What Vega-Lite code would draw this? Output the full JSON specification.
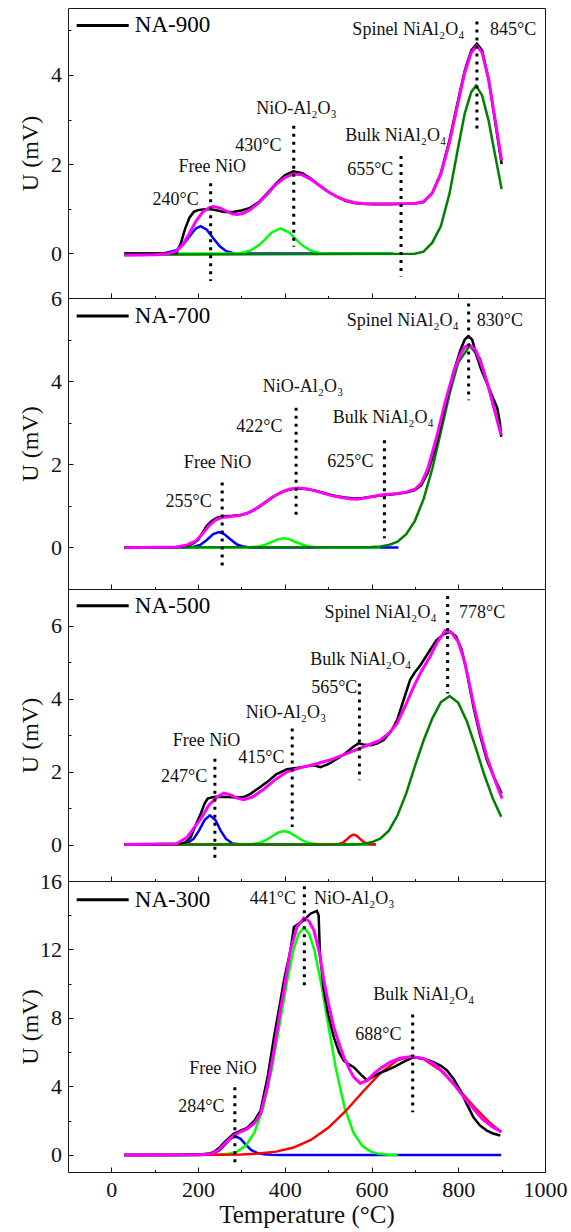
{
"$schema": "https://vega.github.io/schema/vega-lite/v6.json",
"padding": {"left": 17, "top": 7, "right": 5, "bottom": 5},
"bounds": "flush",
"spacing": 0,
"config": {
 "view": {"stroke": "#1a1a1a", "strokeWidth": 1},
 "axis": {"grid": false, "domain": false, "labelFont": "Liberation Serif", "titleFont": "Liberation Serif", "labelColor": "#111", "titleColor": "#111", "tickColor": "#111", "tickWidth": 1, "titleFontWeight": "normal", "labelOverlap": false, "labelFlush": false},
 "text": {"font": "Liberation Serif"}
},
"datasets": {
"c": [
{"p":900,"s":"exp","t":30,"u":0},{"p":900,"s":"exp","t":100,"u":0},{"p":900,"s":"exp","t":140,"u":0.01},{"p":900,"s":"exp","t":150,"u":0.01},{"p":900,"s":"exp","t":160,"u":0.22},{"p":900,"s":"exp","t":170,"u":0.55},{"p":900,"s":"exp","t":180,"u":0.8},{"p":900,"s":"exp","t":190,"u":0.93},{"p":900,"s":"exp","t":200,"u":0.97},{"p":900,"s":"exp","t":215,"u":0.99},{"p":900,"s":"exp","t":230,"u":0.99},{"p":900,"s":"exp","t":245,"u":0.96},{"p":900,"s":"exp","t":260,"u":0.93},{"p":900,"s":"exp","t":280,"u":0.93},{"p":900,"s":"exp","t":300,"u":0.96},{"p":900,"s":"exp","t":320,"u":1.02},{"p":900,"s":"exp","t":340,"u":1.15},{"p":900,"s":"exp","t":360,"u":1.35},{"p":900,"s":"exp","t":380,"u":1.57},{"p":900,"s":"exp","t":400,"u":1.75},{"p":900,"s":"exp","t":420,"u":1.84},{"p":900,"s":"exp","t":440,"u":1.8},{"p":900,"s":"exp","t":460,"u":1.68},{"p":900,"s":"exp","t":480,"u":1.52},{"p":900,"s":"exp","t":500,"u":1.38},{"p":900,"s":"exp","t":520,"u":1.27},{"p":900,"s":"exp","t":540,"u":1.18},{"p":900,"s":"exp","t":560,"u":1.13},{"p":900,"s":"exp","t":580,"u":1.11},{"p":900,"s":"exp","t":600,"u":1.1},{"p":900,"s":"exp","t":640,"u":1.1},{"p":900,"s":"exp","t":680,"u":1.11},{"p":900,"s":"exp","t":700,"u":1.12},{"p":900,"s":"exp","t":720,"u":1.15},{"p":900,"s":"exp","t":740,"u":1.35},{"p":900,"s":"exp","t":760,"u":1.8},{"p":900,"s":"exp","t":780,"u":2.55},{"p":900,"s":"exp","t":800,"u":3.45},{"p":900,"s":"exp","t":815,"u":4.1},{"p":900,"s":"exp","t":830,"u":4.55},{"p":900,"s":"exp","t":843,"u":4.7},{"p":900,"s":"exp","t":855,"u":4.55},{"p":900,"s":"exp","t":870,"u":3.9},{"p":900,"s":"exp","t":885,"u":2.95},{"p":900,"s":"exp","t":900,"u":2.0},
{"p":900,"s":"fit","t":30,"u":-0.04},{"p":900,"s":"fit","t":100,"u":-0.03},{"p":900,"s":"fit","t":130,"u":-0.01},{"p":900,"s":"fit","t":150,"u":0.05},{"p":900,"s":"fit","t":165,"u":0.2},{"p":900,"s":"fit","t":180,"u":0.45},{"p":900,"s":"fit","t":195,"u":0.72},{"p":900,"s":"fit","t":210,"u":0.92},{"p":900,"s":"fit","t":225,"u":1.02},{"p":900,"s":"fit","t":235,"u":1.05},{"p":900,"s":"fit","t":250,"u":1.02},{"p":900,"s":"fit","t":265,"u":0.95},{"p":900,"s":"fit","t":280,"u":0.88},{"p":900,"s":"fit","t":290,"u":0.87},{"p":900,"s":"fit","t":305,"u":0.9},{"p":900,"s":"fit","t":320,"u":0.98},{"p":900,"s":"fit","t":340,"u":1.13},{"p":900,"s":"fit","t":360,"u":1.33},{"p":900,"s":"fit","t":380,"u":1.55},{"p":900,"s":"fit","t":400,"u":1.7},{"p":900,"s":"fit","t":420,"u":1.78},{"p":900,"s":"fit","t":440,"u":1.76},{"p":900,"s":"fit","t":460,"u":1.66},{"p":900,"s":"fit","t":480,"u":1.52},{"p":900,"s":"fit","t":500,"u":1.38},{"p":900,"s":"fit","t":520,"u":1.27},{"p":900,"s":"fit","t":540,"u":1.19},{"p":900,"s":"fit","t":560,"u":1.14},{"p":900,"s":"fit","t":580,"u":1.12},{"p":900,"s":"fit","t":600,"u":1.11},{"p":900,"s":"fit","t":650,"u":1.11},{"p":900,"s":"fit","t":700,"u":1.12},{"p":900,"s":"fit","t":720,"u":1.16},{"p":900,"s":"fit","t":740,"u":1.35},{"p":900,"s":"fit","t":760,"u":1.78},{"p":900,"s":"fit","t":780,"u":2.5},{"p":900,"s":"fit","t":800,"u":3.4},{"p":900,"s":"fit","t":815,"u":4.05},{"p":900,"s":"fit","t":830,"u":4.5},{"p":900,"s":"fit","t":843,"u":4.65},{"p":900,"s":"fit","t":855,"u":4.5},{"p":900,"s":"fit","t":870,"u":3.9},{"p":900,"s":"fit","t":885,"u":3.0},{"p":900,"s":"fit","t":900,"u":2.08},
{"p":900,"s":"free","t":30,"u":0},{"p":900,"s":"free","t":120,"u":0},{"p":900,"s":"free","t":150,"u":0.07},{"p":900,"s":"free","t":165,"u":0.19},{"p":900,"s":"free","t":180,"u":0.38},{"p":900,"s":"free","t":195,"u":0.56},{"p":900,"s":"free","t":206,"u":0.61},{"p":900,"s":"free","t":220,"u":0.53},{"p":900,"s":"free","t":235,"u":0.34},{"p":900,"s":"free","t":250,"u":0.16},{"p":900,"s":"free","t":265,"u":0.05},{"p":900,"s":"free","t":280,"u":0.01},{"p":900,"s":"free","t":300,"u":0},{"p":900,"s":"free","t":650,"u":0},
{"p":900,"s":"nio","t":30,"u":0},{"p":900,"s":"nio","t":280,"u":0},{"p":900,"s":"nio","t":300,"u":0.01},{"p":900,"s":"nio","t":320,"u":0.06},{"p":900,"s":"nio","t":340,"u":0.18},{"p":900,"s":"nio","t":355,"u":0.32},{"p":900,"s":"nio","t":370,"u":0.47},{"p":900,"s":"nio","t":390,"u":0.56},{"p":900,"s":"nio","t":410,"u":0.47},{"p":900,"s":"nio","t":425,"u":0.32},{"p":900,"s":"nio","t":440,"u":0.18},{"p":900,"s":"nio","t":460,"u":0.06},{"p":900,"s":"nio","t":480,"u":0.01},{"p":900,"s":"nio","t":500,"u":0},{"p":900,"s":"nio","t":650,"u":0},
{"p":900,"s":"spinel","t":30,"u":-0.03},{"p":900,"s":"spinel","t":700,"u":-0.01},{"p":900,"s":"spinel","t":720,"u":0.04},{"p":900,"s":"spinel","t":740,"u":0.24},{"p":900,"s":"spinel","t":760,"u":0.61},{"p":900,"s":"spinel","t":780,"u":1.35},{"p":900,"s":"spinel","t":800,"u":2.39},{"p":900,"s":"spinel","t":815,"u":3.14},{"p":900,"s":"spinel","t":830,"u":3.62},{"p":900,"s":"spinel","t":841,"u":3.76},{"p":900,"s":"spinel","t":855,"u":3.54},{"p":900,"s":"spinel","t":870,"u":2.97},{"p":900,"s":"spinel","t":885,"u":2.2},{"p":900,"s":"spinel","t":900,"u":1.44},
{"p":700,"s":"exp","t":30,"u":0},{"p":700,"s":"exp","t":100,"u":0},{"p":700,"s":"exp","t":150,"u":0.01},{"p":700,"s":"exp","t":175,"u":0.04},{"p":700,"s":"exp","t":190,"u":0.1},{"p":700,"s":"exp","t":200,"u":0.18},{"p":700,"s":"exp","t":210,"u":0.35},{"p":700,"s":"exp","t":220,"u":0.52},{"p":700,"s":"exp","t":232,"u":0.64},{"p":700,"s":"exp","t":245,"u":0.72},{"p":700,"s":"exp","t":260,"u":0.75},{"p":700,"s":"exp","t":280,"u":0.76},{"p":700,"s":"exp","t":300,"u":0.78},{"p":700,"s":"exp","t":320,"u":0.85},{"p":700,"s":"exp","t":340,"u":0.97},{"p":700,"s":"exp","t":360,"u":1.12},{"p":700,"s":"exp","t":380,"u":1.26},{"p":700,"s":"exp","t":400,"u":1.36},{"p":700,"s":"exp","t":420,"u":1.41},{"p":700,"s":"exp","t":440,"u":1.42},{"p":700,"s":"exp","t":460,"u":1.39},{"p":700,"s":"exp","t":480,"u":1.34},{"p":700,"s":"exp","t":500,"u":1.28},{"p":700,"s":"exp","t":520,"u":1.23},{"p":700,"s":"exp","t":540,"u":1.2},{"p":700,"s":"exp","t":560,"u":1.18},{"p":700,"s":"exp","t":580,"u":1.19},{"p":700,"s":"exp","t":600,"u":1.22},{"p":700,"s":"exp","t":620,"u":1.25},{"p":700,"s":"exp","t":640,"u":1.27},{"p":700,"s":"exp","t":660,"u":1.29},{"p":700,"s":"exp","t":680,"u":1.32},{"p":700,"s":"exp","t":700,"u":1.38},{"p":700,"s":"exp","t":715,"u":1.5},{"p":700,"s":"exp","t":730,"u":1.8},{"p":700,"s":"exp","t":750,"u":2.5},{"p":700,"s":"exp","t":770,"u":3.4},{"p":700,"s":"exp","t":790,"u":4.25},{"p":700,"s":"exp","t":805,"u":4.75},{"p":700,"s":"exp","t":815,"u":5.0},{"p":700,"s":"exp","t":823,"u":5.08},{"p":700,"s":"exp","t":832,"u":5.0},{"p":700,"s":"exp","t":842,"u":4.62},{"p":700,"s":"exp","t":852,"u":4.3},{"p":700,"s":"exp","t":862,"u":4.05},{"p":700,"s":"exp","t":872,"u":3.8},{"p":700,"s":"exp","t":882,"u":3.55},{"p":700,"s":"exp","t":890,"u":3.35},{"p":700,"s":"exp","t":896,"u":3.0},{"p":700,"s":"exp","t":899,"u":2.66},
{"p":700,"s":"fit","t":30,"u":-0.01},{"p":700,"s":"fit","t":150,"u":0.01},{"p":700,"s":"fit","t":175,"u":0.06},{"p":700,"s":"fit","t":195,"u":0.16},{"p":700,"s":"fit","t":210,"u":0.32},{"p":700,"s":"fit","t":225,"u":0.52},{"p":700,"s":"fit","t":240,"u":0.66},{"p":700,"s":"fit","t":255,"u":0.72},{"p":700,"s":"fit","t":270,"u":0.74},{"p":700,"s":"fit","t":290,"u":0.76},{"p":700,"s":"fit","t":310,"u":0.81},{"p":700,"s":"fit","t":330,"u":0.91},{"p":700,"s":"fit","t":350,"u":1.05},{"p":700,"s":"fit","t":370,"u":1.2},{"p":700,"s":"fit","t":390,"u":1.32},{"p":700,"s":"fit","t":410,"u":1.4},{"p":700,"s":"fit","t":430,"u":1.43},{"p":700,"s":"fit","t":450,"u":1.41},{"p":700,"s":"fit","t":470,"u":1.36},{"p":700,"s":"fit","t":490,"u":1.3},{"p":700,"s":"fit","t":510,"u":1.24},{"p":700,"s":"fit","t":530,"u":1.2},{"p":700,"s":"fit","t":550,"u":1.17},{"p":700,"s":"fit","t":565,"u":1.16},{"p":700,"s":"fit","t":580,"u":1.18},{"p":700,"s":"fit","t":600,"u":1.22},{"p":700,"s":"fit","t":620,"u":1.26},{"p":700,"s":"fit","t":640,"u":1.28},{"p":700,"s":"fit","t":660,"u":1.3},{"p":700,"s":"fit","t":680,"u":1.33},{"p":700,"s":"fit","t":700,"u":1.4},{"p":700,"s":"fit","t":715,"u":1.55},{"p":700,"s":"fit","t":730,"u":1.9},{"p":700,"s":"fit","t":750,"u":2.65},{"p":700,"s":"fit","t":770,"u":3.5},{"p":700,"s":"fit","t":790,"u":4.25},{"p":700,"s":"fit","t":805,"u":4.65},{"p":700,"s":"fit","t":815,"u":4.82},{"p":700,"s":"fit","t":826,"u":4.87},{"p":700,"s":"fit","t":840,"u":4.75},{"p":700,"s":"fit","t":855,"u":4.35},{"p":700,"s":"fit","t":870,"u":3.85},{"p":700,"s":"fit","t":885,"u":3.25},{"p":700,"s":"fit","t":899,"u":2.7},
{"p":700,"s":"free","t":30,"u":0},{"p":700,"s":"free","t":170,"u":0},{"p":700,"s":"free","t":190,"u":0.015},{"p":700,"s":"free","t":205,"u":0.06},{"p":700,"s":"free","t":220,"u":0.18},{"p":700,"s":"free","t":235,"u":0.32},{"p":700,"s":"free","t":248,"u":0.37},{"p":700,"s":"free","t":260,"u":0.32},{"p":700,"s":"free","t":275,"u":0.19},{"p":700,"s":"free","t":290,"u":0.07},{"p":700,"s":"free","t":305,"u":0.02},{"p":700,"s":"free","t":320,"u":0},{"p":700,"s":"free","t":662,"u":0},
{"p":700,"s":"nio","t":30,"u":0},{"p":700,"s":"nio","t":320,"u":0.004},{"p":700,"s":"nio","t":340,"u":0.025},{"p":700,"s":"nio","t":355,"u":0.066},{"p":700,"s":"nio","t":370,"u":0.13},{"p":700,"s":"nio","t":385,"u":0.2},{"p":700,"s":"nio","t":398,"u":0.22},{"p":700,"s":"nio","t":410,"u":0.2},{"p":700,"s":"nio","t":425,"u":0.13},{"p":700,"s":"nio","t":440,"u":0.07},{"p":700,"s":"nio","t":455,"u":0.025},{"p":700,"s":"nio","t":475,"u":0.004},{"p":700,"s":"nio","t":500,"u":0},{"p":700,"s":"nio","t":620,"u":0},
{"p":700,"s":"spinel","t":30,"u":0},{"p":700,"s":"spinel","t":600,"u":0.01},{"p":700,"s":"spinel","t":620,"u":0.02},{"p":700,"s":"spinel","t":640,"u":0.06},{"p":700,"s":"spinel","t":660,"u":0.14},{"p":700,"s":"spinel","t":680,"u":0.32},{"p":700,"s":"spinel","t":700,"u":0.64},{"p":700,"s":"spinel","t":720,"u":1.16},{"p":700,"s":"spinel","t":740,"u":1.89},{"p":700,"s":"spinel","t":760,"u":2.79},{"p":700,"s":"spinel","t":780,"u":3.7},{"p":700,"s":"spinel","t":800,"u":4.45},{"p":700,"s":"spinel","t":826,"u":4.85},{"p":700,"s":"spinel","t":850,"u":4.55},{"p":700,"s":"spinel","t":870,"u":3.85},{"p":700,"s":"spinel","t":885,"u":3.25},{"p":700,"s":"spinel","t":899,"u":2.7},
{"p":500,"s":"exp","t":30,"u":0},{"p":500,"s":"exp","t":100,"u":0.01},{"p":500,"s":"exp","t":150,"u":0.02},{"p":500,"s":"exp","t":170,"u":0.05},{"p":500,"s":"exp","t":183,"u":0.2},{"p":500,"s":"exp","t":195,"u":0.55},{"p":500,"s":"exp","t":206,"u":0.84},{"p":500,"s":"exp","t":215,"u":1.12},{"p":500,"s":"exp","t":222,"u":1.26},{"p":500,"s":"exp","t":235,"u":1.3},{"p":500,"s":"exp","t":250,"u":1.31},{"p":500,"s":"exp","t":270,"u":1.3},{"p":500,"s":"exp","t":290,"u":1.29},{"p":500,"s":"exp","t":305,"u":1.3},{"p":500,"s":"exp","t":320,"u":1.38},{"p":500,"s":"exp","t":340,"u":1.55},{"p":500,"s":"exp","t":359,"u":1.71},{"p":500,"s":"exp","t":380,"u":1.92},{"p":500,"s":"exp","t":405,"u":2.06},{"p":500,"s":"exp","t":430,"u":2.1},{"p":500,"s":"exp","t":450,"u":2.14},{"p":500,"s":"exp","t":467,"u":2.17},{"p":500,"s":"exp","t":482,"u":2.12},{"p":500,"s":"exp","t":500,"u":2.2},{"p":500,"s":"exp","t":521,"u":2.35},{"p":500,"s":"exp","t":540,"u":2.5},{"p":500,"s":"exp","t":558,"u":2.68},{"p":500,"s":"exp","t":570,"u":2.77},{"p":500,"s":"exp","t":585,"u":2.73},{"p":500,"s":"exp","t":600,"u":2.72},{"p":500,"s":"exp","t":615,"u":2.78},{"p":500,"s":"exp","t":628,"u":2.86},{"p":500,"s":"exp","t":645,"u":3.1},{"p":500,"s":"exp","t":659,"u":3.41},{"p":500,"s":"exp","t":675,"u":4.0},{"p":500,"s":"exp","t":689,"u":4.51},{"p":500,"s":"exp","t":700,"u":4.72},{"p":500,"s":"exp","t":713,"u":4.92},{"p":500,"s":"exp","t":735,"u":5.33},{"p":500,"s":"exp","t":750,"u":5.6},{"p":500,"s":"exp","t":766,"u":5.76},{"p":500,"s":"exp","t":782,"u":5.83},{"p":500,"s":"exp","t":795,"u":5.7},{"p":500,"s":"exp","t":808,"u":5.33},{"p":500,"s":"exp","t":820,"u":4.7},{"p":500,"s":"exp","t":835,"u":3.77},{"p":500,"s":"exp","t":850,"u":3.0},{"p":500,"s":"exp","t":866,"u":2.31},{"p":500,"s":"exp","t":882,"u":1.85},{"p":500,"s":"exp","t":897,"u":1.48},{"p":500,"s":"exp","t":900,"u":1.4},
{"p":500,"s":"fit","t":30,"u":0},{"p":500,"s":"fit","t":150,"u":0.02},{"p":500,"s":"fit","t":175,"u":0.2},{"p":500,"s":"fit","t":190,"u":0.45},{"p":500,"s":"fit","t":206,"u":0.7},{"p":500,"s":"fit","t":225,"u":1.08},{"p":500,"s":"fit","t":244,"u":1.3},{"p":500,"s":"fit","t":259,"u":1.41},{"p":500,"s":"fit","t":275,"u":1.36},{"p":500,"s":"fit","t":290,"u":1.27},{"p":500,"s":"fit","t":305,"u":1.23},{"p":500,"s":"fit","t":325,"u":1.3},{"p":500,"s":"fit","t":350,"u":1.5},{"p":500,"s":"fit","t":375,"u":1.75},{"p":500,"s":"fit","t":405,"u":1.99},{"p":500,"s":"fit","t":435,"u":2.1},{"p":500,"s":"fit","t":467,"u":2.19},{"p":500,"s":"fit","t":500,"u":2.3},{"p":500,"s":"fit","t":543,"u":2.49},{"p":500,"s":"fit","t":580,"u":2.67},{"p":500,"s":"fit","t":620,"u":2.86},{"p":500,"s":"fit","t":640,"u":3.05},{"p":500,"s":"fit","t":659,"u":3.32},{"p":500,"s":"fit","t":680,"u":3.85},{"p":500,"s":"fit","t":697,"u":4.32},{"p":500,"s":"fit","t":715,"u":4.75},{"p":500,"s":"fit","t":735,"u":5.15},{"p":500,"s":"fit","t":752,"u":5.55},{"p":500,"s":"fit","t":770,"u":5.86},{"p":500,"s":"fit","t":785,"u":5.8},{"p":500,"s":"fit","t":800,"u":5.55},{"p":500,"s":"fit","t":815,"u":5.0},{"p":500,"s":"fit","t":835,"u":3.87},{"p":500,"s":"fit","t":850,"u":3.1},{"p":500,"s":"fit","t":866,"u":2.4},{"p":500,"s":"fit","t":885,"u":1.75},{"p":500,"s":"fit","t":901,"u":1.26},
{"p":500,"s":"free","t":30,"u":0},{"p":500,"s":"free","t":160,"u":0.004},{"p":500,"s":"free","t":175,"u":0.03},{"p":500,"s":"free","t":190,"u":0.16},{"p":500,"s":"free","t":202,"u":0.38},{"p":500,"s":"free","t":215,"u":0.67},{"p":500,"s":"free","t":227,"u":0.8},{"p":500,"s":"free","t":240,"u":0.67},{"p":500,"s":"free","t":252,"u":0.38},{"p":500,"s":"free","t":264,"u":0.16},{"p":500,"s":"free","t":279,"u":0.03},{"p":500,"s":"free","t":295,"u":0.004},{"p":500,"s":"free","t":310,"u":0},{"p":500,"s":"free","t":610,"u":0},
{"p":500,"s":"nio","t":30,"u":0},{"p":500,"s":"nio","t":320,"u":0.008},{"p":500,"s":"nio","t":340,"u":0.04},{"p":500,"s":"nio","t":355,"u":0.11},{"p":500,"s":"nio","t":370,"u":0.22},{"p":500,"s":"nio","t":385,"u":0.33},{"p":500,"s":"nio","t":398,"u":0.37},{"p":500,"s":"nio","t":411,"u":0.33},{"p":500,"s":"nio","t":426,"u":0.22},{"p":500,"s":"nio","t":441,"u":0.11},{"p":500,"s":"nio","t":456,"u":0.04},{"p":500,"s":"nio","t":476,"u":0.008},{"p":500,"s":"nio","t":500,"u":0},{"p":500,"s":"nio","t":610,"u":0},
{"p":500,"s":"bulk","t":30,"u":0},{"p":500,"s":"bulk","t":510,"u":0},{"p":500,"s":"bulk","t":525,"u":0.014},{"p":500,"s":"bulk","t":535,"u":0.06},{"p":500,"s":"bulk","t":545,"u":0.16},{"p":500,"s":"bulk","t":552,"u":0.24},{"p":500,"s":"bulk","t":559,"u":0.27},{"p":500,"s":"bulk","t":566,"u":0.24},{"p":500,"s":"bulk","t":573,"u":0.16},{"p":500,"s":"bulk","t":583,"u":0.06},{"p":500,"s":"bulk","t":593,"u":0.014},{"p":500,"s":"bulk","t":610,"u":0},
{"p":500,"s":"spinel","t":30,"u":0},{"p":500,"s":"spinel","t":560,"u":0},{"p":500,"s":"spinel","t":580,"u":0.02},{"p":500,"s":"spinel","t":600,"u":0.06},{"p":500,"s":"spinel","t":620,"u":0.16},{"p":500,"s":"spinel","t":640,"u":0.38},{"p":500,"s":"spinel","t":660,"u":0.8},{"p":500,"s":"spinel","t":680,"u":1.4},{"p":500,"s":"spinel","t":700,"u":2.15},{"p":500,"s":"spinel","t":720,"u":2.85},{"p":500,"s":"spinel","t":740,"u":3.45},{"p":500,"s":"spinel","t":760,"u":3.9},{"p":500,"s":"spinel","t":780,"u":4.07},{"p":500,"s":"spinel","t":800,"u":3.88},{"p":500,"s":"spinel","t":820,"u":3.37},{"p":500,"s":"spinel","t":840,"u":2.66},{"p":500,"s":"spinel","t":860,"u":1.91},{"p":500,"s":"spinel","t":880,"u":1.25},{"p":500,"s":"spinel","t":899,"u":0.76},
{"p":300,"s":"exp","t":30,"u":0},{"p":300,"s":"exp","t":150,"u":0},{"p":300,"s":"exp","t":206,"u":0.02},{"p":300,"s":"exp","t":225,"u":0.08},{"p":300,"s":"exp","t":236,"u":0.15},{"p":300,"s":"exp","t":250,"u":0.45},{"p":300,"s":"exp","t":265,"u":0.85},{"p":300,"s":"exp","t":282,"u":1.23},{"p":300,"s":"exp","t":298,"u":1.42},{"p":300,"s":"exp","t":313,"u":1.58},{"p":300,"s":"exp","t":330,"u":2.0},{"p":300,"s":"exp","t":344,"u":2.59},{"p":300,"s":"exp","t":360,"u":4.5},{"p":300,"s":"exp","t":375,"u":6.88},{"p":300,"s":"exp","t":390,"u":9.0},{"p":300,"s":"exp","t":398,"u":10.19},{"p":300,"s":"exp","t":413,"u":11.95},{"p":300,"s":"exp","t":421,"u":13.31},{"p":300,"s":"exp","t":444,"u":13.7},{"p":300,"s":"exp","t":459,"u":14.09},{"p":300,"s":"exp","t":474,"u":14.25},{"p":300,"s":"exp","t":478,"u":14.0},{"p":300,"s":"exp","t":481,"u":11.75},{"p":300,"s":"exp","t":490,"u":9.61},{"p":300,"s":"exp","t":500,"u":8.2},{"p":300,"s":"exp","t":513,"u":6.88},{"p":300,"s":"exp","t":525,"u":6.0},{"p":300,"s":"exp","t":536,"u":5.51},{"p":300,"s":"exp","t":547,"u":5.3},{"p":300,"s":"exp","t":559,"u":5.12},{"p":300,"s":"exp","t":575,"u":4.7},{"p":300,"s":"exp","t":590,"u":4.35},{"p":300,"s":"exp","t":605,"u":4.6},{"p":300,"s":"exp","t":620,"u":4.79},{"p":300,"s":"exp","t":636,"u":4.95},{"p":300,"s":"exp","t":651,"u":5.12},{"p":300,"s":"exp","t":675,"u":5.45},{"p":300,"s":"exp","t":697,"u":5.71},{"p":300,"s":"exp","t":720,"u":5.62},{"p":300,"s":"exp","t":743,"u":5.42},{"p":300,"s":"exp","t":760,"u":5.2},{"p":300,"s":"exp","t":774,"u":4.93},{"p":300,"s":"exp","t":790,"u":4.4},{"p":300,"s":"exp","t":805,"u":3.76},{"p":300,"s":"exp","t":820,"u":2.95},{"p":300,"s":"exp","t":835,"u":2.2},{"p":300,"s":"exp","t":850,"u":1.72},{"p":300,"s":"exp","t":866,"u":1.42},{"p":300,"s":"exp","t":880,"u":1.25},{"p":300,"s":"exp","t":897,"u":1.13},
{"p":300,"s":"fit","t":30,"u":0},{"p":300,"s":"fit","t":200,"u":0.01},{"p":300,"s":"fit","t":220,"u":0.03},{"p":300,"s":"fit","t":236,"u":0.1},{"p":300,"s":"fit","t":250,"u":0.35},{"p":300,"s":"fit","t":265,"u":0.75},{"p":300,"s":"fit","t":282,"u":1.13},{"p":300,"s":"fit","t":298,"u":1.35},{"p":300,"s":"fit","t":313,"u":1.52},{"p":300,"s":"fit","t":330,"u":1.85},{"p":300,"s":"fit","t":344,"u":2.4},{"p":300,"s":"fit","t":360,"u":4.0},{"p":300,"s":"fit","t":375,"u":6.1},{"p":300,"s":"fit","t":390,"u":8.5},{"p":300,"s":"fit","t":398,"u":9.61},{"p":300,"s":"fit","t":413,"u":11.95},{"p":300,"s":"fit","t":428,"u":13.3},{"p":300,"s":"fit","t":444,"u":13.84},{"p":300,"s":"fit","t":456,"u":13.65},{"p":300,"s":"fit","t":467,"u":13.12},{"p":300,"s":"fit","t":480,"u":11.8},{"p":300,"s":"fit","t":490,"u":10.19},{"p":300,"s":"fit","t":500,"u":8.9},{"p":300,"s":"fit","t":513,"u":7.46},{"p":300,"s":"fit","t":525,"u":6.5},{"p":300,"s":"fit","t":536,"u":5.71},{"p":300,"s":"fit","t":550,"u":4.95},{"p":300,"s":"fit","t":559,"u":4.54},{"p":300,"s":"fit","t":574,"u":4.19},{"p":300,"s":"fit","t":590,"u":4.35},{"p":300,"s":"fit","t":605,"u":4.74},{"p":300,"s":"fit","t":620,"u":5.05},{"p":300,"s":"fit","t":643,"u":5.42},{"p":300,"s":"fit","t":665,"u":5.65},{"p":300,"s":"fit","t":693,"u":5.75},{"p":300,"s":"fit","t":720,"u":5.62},{"p":300,"s":"fit","t":743,"u":5.32},{"p":300,"s":"fit","t":765,"u":4.85},{"p":300,"s":"fit","t":789,"u":4.15},{"p":300,"s":"fit","t":812,"u":3.4},{"p":300,"s":"fit","t":835,"u":2.69},{"p":300,"s":"fit","t":855,"u":2.1},{"p":300,"s":"fit","t":878,"u":1.65},{"p":300,"s":"fit","t":899,"u":1.36},
{"p":300,"s":"free","t":30,"u":0},{"p":300,"s":"free","t":200,"u":0},{"p":300,"s":"free","t":220,"u":0.012},{"p":300,"s":"free","t":235,"u":0.07},{"p":300,"s":"free","t":250,"u":0.29},{"p":300,"s":"free","t":262,"u":0.6},{"p":300,"s":"free","t":274,"u":0.94},{"p":300,"s":"free","t":286,"u":1.09},{"p":300,"s":"free","t":298,"u":0.94},{"p":300,"s":"free","t":310,"u":0.6},{"p":300,"s":"free","t":322,"u":0.29},{"p":300,"s":"free","t":337,"u":0.1},{"p":300,"s":"free","t":352,"u":0.03},{"p":300,"s":"free","t":370,"u":0.005},{"p":300,"s":"free","t":390,"u":0},{"p":300,"s":"free","t":899,"u":0},
{"p":300,"s":"nio","t":30,"u":0},{"p":300,"s":"nio","t":200,"u":0},{"p":300,"s":"nio","t":230,"u":0.004},{"p":300,"s":"nio","t":250,"u":0.016},{"p":300,"s":"nio","t":270,"u":0.06},{"p":300,"s":"nio","t":290,"u":0.19},{"p":300,"s":"nio","t":310,"u":0.54},{"p":300,"s":"nio","t":330,"u":1.31},{"p":300,"s":"nio","t":350,"u":2.75},{"p":300,"s":"nio","t":370,"u":5.01},{"p":300,"s":"nio","t":390,"u":7.9},{"p":300,"s":"nio","t":405,"u":10.12},{"p":300,"s":"nio","t":420,"u":11.98},{"p":300,"s":"nio","t":432,"u":12.93},{"p":300,"s":"nio","t":444,"u":13.27},{"p":300,"s":"nio","t":456,"u":12.93},{"p":300,"s":"nio","t":468,"u":11.98},{"p":300,"s":"nio","t":483,"u":10.12},{"p":300,"s":"nio","t":498,"u":7.9},{"p":300,"s":"nio","t":518,"u":5.01},{"p":300,"s":"nio","t":538,"u":2.75},{"p":300,"s":"nio","t":558,"u":1.31},{"p":300,"s":"nio","t":578,"u":0.54},{"p":300,"s":"nio","t":598,"u":0.19},{"p":300,"s":"nio","t":618,"u":0.06},{"p":300,"s":"nio","t":640,"u":0.01},{"p":300,"s":"nio","t":660,"u":0},
{"p":300,"s":"bulk","t":30,"u":0},{"p":300,"s":"bulk","t":200,"u":0.001},{"p":300,"s":"bulk","t":250,"u":0.006},{"p":300,"s":"bulk","t":300,"u":0.027},{"p":300,"s":"bulk","t":340,"u":0.076},{"p":300,"s":"bulk","t":380,"u":0.19},{"p":300,"s":"bulk","t":420,"u":0.43},{"p":300,"s":"bulk","t":460,"u":0.87},{"p":300,"s":"bulk","t":500,"u":1.58},{"p":300,"s":"bulk","t":540,"u":2.55},{"p":300,"s":"bulk","t":580,"u":3.69},{"p":300,"s":"bulk","t":620,"u":4.78},{"p":300,"s":"bulk","t":660,"u":5.54},{"p":300,"s":"bulk","t":693,"u":5.75},{"p":300,"s":"bulk","t":720,"u":5.61},{"p":300,"s":"bulk","t":760,"u":4.92},{"p":300,"s":"bulk","t":800,"u":3.86},{"p":300,"s":"bulk","t":840,"u":2.71},{"p":300,"s":"bulk","t":870,"u":1.94},{"p":300,"s":"bulk","t":899,"u":1.32}
],
"d": [
{"p":900,"t":229,"u":1.57,"u2":-0.62},{"p":900,"t":420.6,"u":2.86,"u2":0.15},{"p":900,"t":668,"u":2.18,"u2":-0.52},{"p":900,"t":843,"u":5.2,"u2":2.79},
{"p":700,"t":255.6,"u":1.56,"u2":-0.49},{"p":700,"t":426,"u":3.36,"u2":0.76},{"p":700,"t":629.6,"u":2.58,"u2":0.22},{"p":700,"t":823.8,"u":5.87,"u2":3.54},
{"p":500,"t":238.7,"u":2.35,"u2":-0.39},{"p":500,"t":417,"u":3.18,"u2":0.48},{"p":500,"t":572,"u":4.41,"u2":1.76},{"p":500,"t":775.5,"u":6.81,"u2":4.14},
{"p":300,"t":284.8,"u":3.95,"u2":-0.63},{"p":300,"t":445,"u":15.69,"u2":9.9},{"p":300,"t":694.8,"u":8.2,"u2":2.49}
],
"txt": [
{"p":900,"t":232.6,"u":1.94,"label":"Free NiO"},{"p":900,"t":148,"u":1.19,"label":"240°C"},{"p":900,"t":427,"u":3.24,"label":"NiO-Al₂O₃"},{"p":900,"t":339,"u":2.4,"label":"430°C"},{"p":900,"t":656,"u":2.64,"label":"Bulk NiAl₂O₄"},{"p":900,"t":597,"u":1.87,"label":"655°C"},{"p":900,"t":685,"u":5.0,"label":"Spinel NiAl₂O₄"},{"p":900,"t":926.5,"u":5.0,"label":"845°C"},
{"p":700,"t":245,"u":2.02,"label":"Free NiO"},{"p":700,"t":178,"u":1.1,"label":"255°C"},{"p":700,"t":442,"u":3.86,"label":"NiO-Al₂O₃"},{"p":700,"t":341.5,"u":2.9,"label":"422°C"},{"p":700,"t":627,"u":3.12,"label":"Bulk NiAl₂O₄"},{"p":700,"t":551,"u":2.06,"label":"625°C"},{"p":700,"t":672,"u":5.44,"label":"Spinel NiAl₂O₄"},{"p":700,"t":896,"u":5.44,"label":"830°C"},
{"p":500,"t":219.5,"u":2.84,"label":"Free NiO"},{"p":500,"t":168,"u":1.85,"label":"247°C"},{"p":500,"t":403,"u":3.61,"label":"NiO-Al₂O₃"},{"p":500,"t":345.8,"u":2.38,"label":"415°C"},{"p":500,"t":575,"u":5.05,"label":"Bulk NiAl₂O₄"},{"p":500,"t":514,"u":4.28,"label":"565°C"},{"p":500,"t":621,"u":6.34,"label":"Spinel NiAl₂O₄"},{"p":500,"t":855,"u":6.34,"label":"778°C"},
{"p":300,"t":257.5,"u":4.99,"label":"Free NiO"},{"p":300,"t":207.6,"u":2.78,"label":"284°C"},{"p":300,"t":372.7,"u":14.97,"label":"441°C"},{"p":300,"t":560,"u":14.97,"label":"NiO-Al₂O₃"},{"p":300,"t":720.6,"u":9.32,"label":"Bulk NiAl₂O₄"},{"p":300,"t":615.8,"u":6.98,"label":"688°C"}
],
"leg": [
{"p":900,"t":-80,"t2":40,"u":5.11},{"p":700,"t":-80,"t2":40,"u":5.57},{"p":500,"t":-80,"t2":40,"u":6.54},{"p":300,"t":-80,"t2":40,"u":14.91}
],
"legt": [
{"p":900,"t":54,"u":5.11,"label":"NA-900"},{"p":700,"t":54,"u":5.57,"label":"NA-700"},{"p":500,"t":54,"u":6.54,"label":"NA-500"},{"p":300,"t":54,"u":14.91,"label":"NA-300"}
]
},
"vconcat": [
{
 "width": 477, "height": 290,
 "encoding": {
  "x": {"field": "t", "type": "quantitative", "scale": {"domain": [-100, 1000], "nice": false, "zero": false}, "axis": {"values": [0,100,200,300,400,500,600,700,800,900,1000], "labels": false, "title": null, "tickSize": {"condition": {"test": "datum.value % 200 !== 0", "value": -2.5}, "value": -5}}},
  "y": {"field": "u", "type": "quantitative", "scale": {"domain": [-1, 5.5], "nice": false, "zero": false}, "axis": {"values": [-1,0,1,2,3,4,5], "title": "U (mV)", "format": "d", "labelExpr": "datum.value % 2 === 0 ? datum.label : ''", "tickSize": {"condition": {"test": "datum.value % 2 !== 0", "value": -3}, "value": -5}, "labelPadding": 11.5, "labelFontSize": 22, "titleFontSize": 24, "titlePadding": 4, "minExtent": 22, "maxExtent": 22}}
 },
 "layer": [
  {"data": {"name": "c"}, "transform": [{"filter": "datum.p == 900 && datum.s != 'exp' && datum.s != 'fit'"}], "mark": {"type": "line", "strokeWidth": 2.5}, "encoding": {"color": {"field": "s", "type": "nominal", "scale": {"domain": ["free", "nio", "bulk", "spinel"], "range": ["#0000ff", "#00ff00", "#ff0000", "#008000"]}, "legend": null}}},
  {"data": {"name": "c"}, "transform": [{"filter": "datum.p == 900 && datum.s == 'exp'"}], "mark": {"type": "line", "strokeWidth": 2.5, "color": "#000000"}},
  {"data": {"name": "c"}, "transform": [{"filter": "datum.p == 900 && datum.s == 'fit'"}], "mark": {"type": "line", "strokeWidth": 3, "color": "#ff00ff"}},
  {"data": {"name": "d"}, "transform": [{"filter": "datum.p == 900"}], "mark": {"type": "rule", "strokeDash": [3, 5], "strokeWidth": 3, "color": "#000000"}, "encoding": {"y2": {"field": "u2"}}},
  {"data": {"name": "txt"}, "transform": [{"filter": "datum.p == 900"}], "mark": {"type": "text", "fontSize": 18, "align": "center", "baseline": "middle", "color": "#111111"}, "encoding": {"text": {"field": "label"}}},
  {"data": {"name": "leg"}, "transform": [{"filter": "datum.p == 900"}], "mark": {"type": "rule", "strokeWidth": 3, "color": "#000000"}, "encoding": {"x2": {"field": "t2"}}},
  {"data": {"name": "legt"}, "transform": [{"filter": "datum.p == 900"}], "mark": {"type": "text", "fontSize": 23, "align": "left", "baseline": "middle", "color": "#000000"}, "encoding": {"text": {"field": "label"}}}
 ]
},
{
 "width": 477, "height": 291,
 "encoding": {
  "x": {"field": "t", "type": "quantitative", "scale": {"domain": [-100, 1000], "nice": false, "zero": false}, "axis": {"values": [0,100,200,300,400,500,600,700,800,900,1000], "labels": false, "title": null, "tickSize": {"condition": {"test": "datum.value % 200 !== 0", "value": -2.5}, "value": -5}}},
  "y": {"field": "u", "type": "quantitative", "scale": {"domain": [-1, 6], "nice": false, "zero": false}, "axis": {"values": [-1,0,1,2,3,4,5,6], "title": "U (mV)", "format": "d", "labelExpr": "datum.value % 2 === 0 ? datum.label : ''", "tickSize": {"condition": {"test": "datum.value % 2 !== 0", "value": -3}, "value": -5}, "labelPadding": 11.5, "labelFontSize": 22, "titleFontSize": 24, "titlePadding": 4, "minExtent": 22, "maxExtent": 22}}
 },
 "layer": [
  {"data": {"name": "c"}, "transform": [{"filter": "datum.p == 700 && datum.s != 'exp' && datum.s != 'fit'"}], "mark": {"type": "line", "strokeWidth": 2.5}, "encoding": {"color": {"field": "s", "type": "nominal", "scale": {"domain": ["free", "nio", "bulk", "spinel"], "range": ["#0000ff", "#00ff00", "#ff0000", "#008000"]}, "legend": null}}},
  {"data": {"name": "c"}, "transform": [{"filter": "datum.p == 700 && datum.s == 'exp'"}], "mark": {"type": "line", "strokeWidth": 2.5, "color": "#000000"}},
  {"data": {"name": "c"}, "transform": [{"filter": "datum.p == 700 && datum.s == 'fit'"}], "mark": {"type": "line", "strokeWidth": 3, "color": "#ff00ff"}},
  {"data": {"name": "d"}, "transform": [{"filter": "datum.p == 700"}], "mark": {"type": "rule", "strokeDash": [3, 5], "strokeWidth": 3, "color": "#000000"}, "encoding": {"y2": {"field": "u2"}}},
  {"data": {"name": "txt"}, "transform": [{"filter": "datum.p == 700"}], "mark": {"type": "text", "fontSize": 18, "align": "center", "baseline": "middle", "color": "#111111"}, "encoding": {"text": {"field": "label"}}},
  {"data": {"name": "leg"}, "transform": [{"filter": "datum.p == 700"}], "mark": {"type": "rule", "strokeWidth": 3, "color": "#000000"}, "encoding": {"x2": {"field": "t2"}}},
  {"data": {"name": "legt"}, "transform": [{"filter": "datum.p == 700"}], "mark": {"type": "text", "fontSize": 23, "align": "left", "baseline": "middle", "color": "#000000"}, "encoding": {"text": {"field": "label"}}}
 ]
},
{
 "width": 477, "height": 292,
 "encoding": {
  "x": {"field": "t", "type": "quantitative", "scale": {"domain": [-100, 1000], "nice": false, "zero": false}, "axis": {"values": [0,100,200,300,400,500,600,700,800,900,1000], "labels": false, "title": null, "tickSize": {"condition": {"test": "datum.value % 200 !== 0", "value": -2.5}, "value": -5}}},
  "y": {"field": "u", "type": "quantitative", "scale": {"domain": [-1, 7], "nice": false, "zero": false}, "axis": {"values": [-1,0,1,2,3,4,5,6,7], "title": "U (mV)", "format": "d", "labelExpr": "datum.value % 2 === 0 ? datum.label : ''", "tickSize": {"condition": {"test": "datum.value % 2 !== 0", "value": -3}, "value": -5}, "labelPadding": 11.5, "labelFontSize": 22, "titleFontSize": 24, "titlePadding": 4, "minExtent": 22, "maxExtent": 22}}
 },
 "layer": [
  {"data": {"name": "c"}, "transform": [{"filter": "datum.p == 500 && datum.s != 'exp' && datum.s != 'fit'"}], "mark": {"type": "line", "strokeWidth": 2.5}, "encoding": {"color": {"field": "s", "type": "nominal", "scale": {"domain": ["free", "nio", "bulk", "spinel"], "range": ["#0000ff", "#00ff00", "#ff0000", "#008000"]}, "legend": null}}},
  {"data": {"name": "c"}, "transform": [{"filter": "datum.p == 500 && datum.s == 'exp'"}], "mark": {"type": "line", "strokeWidth": 2.5, "color": "#000000"}},
  {"data": {"name": "c"}, "transform": [{"filter": "datum.p == 500 && datum.s == 'fit'"}], "mark": {"type": "line", "strokeWidth": 3, "color": "#ff00ff"}},
  {"data": {"name": "d"}, "transform": [{"filter": "datum.p == 500"}], "mark": {"type": "rule", "strokeDash": [3, 5], "strokeWidth": 3, "color": "#000000"}, "encoding": {"y2": {"field": "u2"}}},
  {"data": {"name": "txt"}, "transform": [{"filter": "datum.p == 500"}], "mark": {"type": "text", "fontSize": 18, "align": "center", "baseline": "middle", "color": "#111111"}, "encoding": {"text": {"field": "label"}}},
  {"data": {"name": "leg"}, "transform": [{"filter": "datum.p == 500"}], "mark": {"type": "rule", "strokeWidth": 3, "color": "#000000"}, "encoding": {"x2": {"field": "t2"}}},
  {"data": {"name": "legt"}, "transform": [{"filter": "datum.p == 500"}], "mark": {"type": "text", "fontSize": 23, "align": "left", "baseline": "middle", "color": "#000000"}, "encoding": {"text": {"field": "label"}}}
 ]
},
{
 "width": 477, "height": 291,
 "encoding": {
  "x": {"field": "t", "type": "quantitative", "scale": {"domain": [-100, 1000], "nice": false, "zero": false}, "axis": {"values": [0,100,200,300,400,500,600,700,800,900,1000], "title": "Temperature (°C)", "format": "d", "labelExpr": "datum.value % 200 === 0 ? datum.label : ''", "tickSize": {"condition": {"test": "datum.value % 200 !== 0", "value": -2.5}, "value": -5}, "labelPadding": 12, "labelFontSize": 22, "titleFontSize": 25, "titlePadding": 0}},
  "y": {"field": "u", "type": "quantitative", "scale": {"domain": [-1, 16], "nice": false, "zero": false}, "axis": {"values": [0,2,4,6,8,10,12,14,16], "title": "U (mV)", "format": "d", "labelExpr": "datum.value % 4 === 0 ? datum.label : ''", "tickSize": {"condition": {"test": "datum.value % 4 !== 0", "value": -3}, "value": -5}, "labelPadding": 11.5, "labelFontSize": 22, "titleFontSize": 24, "titlePadding": 4, "minExtent": 22, "maxExtent": 22}}
 },
 "layer": [
  {"data": {"name": "c"}, "transform": [{"filter": "datum.p == 300 && datum.s != 'exp' && datum.s != 'fit'"}], "mark": {"type": "line", "strokeWidth": 2.5}, "encoding": {"color": {"field": "s", "type": "nominal", "scale": {"domain": ["free", "nio", "bulk", "spinel"], "range": ["#0000ff", "#00ff00", "#ff0000", "#008000"]}, "legend": null}}},
  {"data": {"name": "c"}, "transform": [{"filter": "datum.p == 300 && datum.s == 'exp'"}], "mark": {"type": "line", "strokeWidth": 2.5, "color": "#000000"}},
  {"data": {"name": "c"}, "transform": [{"filter": "datum.p == 300 && datum.s == 'fit'"}], "mark": {"type": "line", "strokeWidth": 3, "color": "#ff00ff"}},
  {"data": {"name": "d"}, "transform": [{"filter": "datum.p == 300"}], "mark": {"type": "rule", "strokeDash": [3, 5], "strokeWidth": 3, "color": "#000000"}, "encoding": {"y2": {"field": "u2"}}},
  {"data": {"name": "txt"}, "transform": [{"filter": "datum.p == 300"}], "mark": {"type": "text", "fontSize": 18, "align": "center", "baseline": "middle", "color": "#111111"}, "encoding": {"text": {"field": "label"}}},
  {"data": {"name": "leg"}, "transform": [{"filter": "datum.p == 300"}], "mark": {"type": "rule", "strokeWidth": 3, "color": "#000000"}, "encoding": {"x2": {"field": "t2"}}},
  {"data": {"name": "legt"}, "transform": [{"filter": "datum.p == 300"}], "mark": {"type": "text", "fontSize": 23, "align": "left", "baseline": "middle", "color": "#000000"}, "encoding": {"text": {"field": "label"}}}
 ]
}
]
}
